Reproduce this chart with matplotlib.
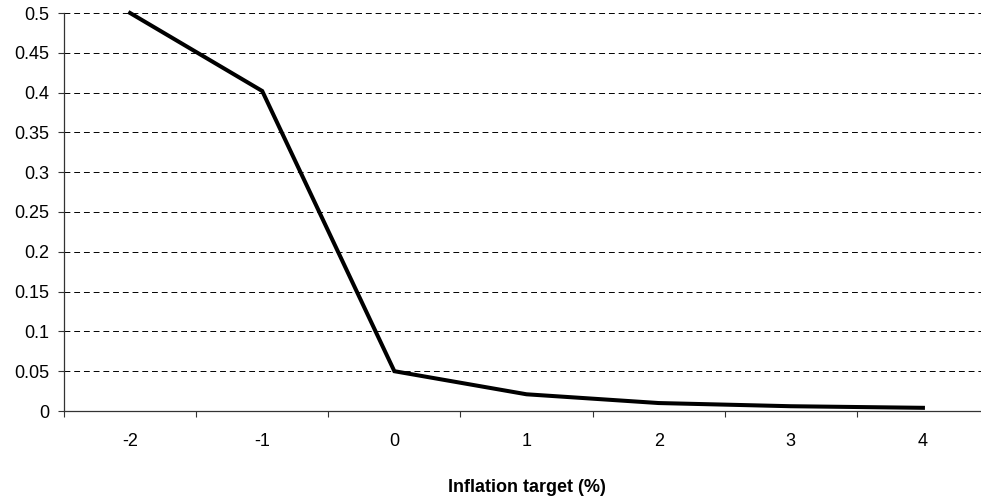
import matplotlib
matplotlib.use("Agg")
import matplotlib.pyplot as plt
import numpy as np

categories = ["-2", "-1", "0", "1", "2", "3", "4"]
values = [0.5, 0.402, 0.05, 0.021, 0.01, 0.006, 0.004]
yticks = [0, 0.05, 0.1, 0.15, 0.2, 0.25, 0.3, 0.35, 0.4, 0.45, 0.5]
ytick_labels = ["0", "0.05", "0.1", "0.15", "0.2", "0.25", "0.3", "0.35", "0.4", "0.45", "0.5"]

plt.rcParams['font.family'] = ['Liberation Sans', 'DejaVu Sans']

fig = plt.figure(figsize=(9.81, 4.99), dpi=100)
ax = fig.add_axes([64/981, 1 - 411/499, (989 - 64)/981, (411 - 13)/499])

x = np.arange(len(categories))
ax.plot(x, values, color='black', lw=2.9, solid_joinstyle='miter', clip_on=False, zorder=3)

ax.set_xlim(-0.5, len(categories) - 0.5)
ax.set_ylim(0, 0.5)
ax.set_yticks(yticks)
ax.set_yticklabels(ytick_labels, fontsize=13)
ax.set_xticks(x)
ax.set_xticklabels(categories, fontsize=13)
ax.set_xticks(np.arange(len(categories) + 1) - 0.5, minor=True)
ax.tick_params(axis='x', which='major', length=0, pad=15.5)
ax.tick_params(axis='x', which='minor', length=4.5, width=0.8, direction='out', color='#333333')
ax.tick_params(axis='y', which='major', length=4.5, width=0.8, direction='out', color='#333333', pad=6)

for yv in yticks[1:]:
    ax.axhline(yv, color='black', lw=0.7, ls=(0, (6, 4)), zorder=1)

for s in ['top', 'right']:
    ax.spines[s].set_visible(False)
ax.spines['left'].set_color('#333333')
ax.spines['bottom'].set_color('#333333')
ax.spines['left'].set_linewidth(0.9)
ax.spines['bottom'].set_linewidth(0.9)

ax.set_xlabel("Inflation target (%)", fontsize=13, fontweight='bold', labelpad=21)

fig.savefig("out.png", dpi=100)
